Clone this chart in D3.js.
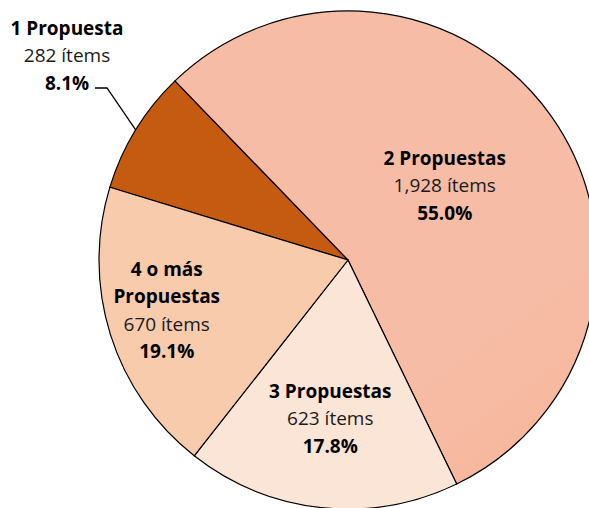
<!DOCTYPE html>
<html>
<head>
<meta charset="utf-8">
<script src="https://cdn.jsdelivr.net/npm/d3@7"></script>
<style>
  body { margin: 0; background: #fff; }
  text { font-family: 'Open Sans', sans-serif; font-size: 19px; fill: #1a1a1a; }
  .b { font-weight: bold; fill: #000; }
</style>
</head>
<body>
<svg width="589" height="508"></svg>
<script>
// Data
let categories = ['1 Propuesta', '2 Propuestas', '3 Propuestas', '4 o más Propuestas'];
let items = [282, 1928, 623, 670];
let nameLines = [['1 Propuesta'], ['2 Propuestas'], ['3 Propuestas'], ['4 o más', 'Propuestas']];
let colors = ['#c55a11', 'url(#grad2)', '#fbe5d6', '#f8cbad'];

let svg = d3.select('svg');
let cx = 348, cy = 260, radius = 249;
let total = d3.sum(items);

// Gradient for the big slice
let grad = svg.append('defs').append('linearGradient')
    .attr('id', 'grad2')
    .attr('gradientUnits', 'userSpaceOnUse')
    .attr('x1', 220).attr('y1', 20).attr('x2', 520).attr('y2', 440);
grad.append('stop').attr('offset', '0%').attr('stop-color', '#f7bca5');
grad.append('stop').attr('offset', '100%').attr('stop-color', '#f4a684');

let pie = d3.pie()
    .sort(null)
    .startAngle(-73 * Math.PI / 180)
    .endAngle((360 - 73) * Math.PI / 180);

let arcs = pie(items);
let arc = d3.arc().innerRadius(0).outerRadius(radius);

let g = svg.append('g').attr('transform', 'translate(' + cx + ',' + cy + ')');

g.selectAll('path')
    .data(arcs)
    .enter().append('path')
    .attr('d', arc)
    .attr('fill', (d, i) => colors[i])
    .attr('stroke', '#000')
    .attr('stroke-width', 1.2)
    .attr('stroke-linejoin', 'round');

// Label radii (inside labels); first one is placed outside with a leader line
let labelRadius = [null, 118, 166, 190];

let fmt = d3.format(',');
let lineH = 27.5;

arcs.forEach(function(d, i) {
    let lines = nameLines[i].map(t => ({t: t, b: true}))
        .concat([{t: fmt(items[i]) + ' ítems', b: false},
                 {t: (items[i] / total * 100).toFixed(1) + '%', b: true}]);
    let x, y;
    if (labelRadius[i] == null) {
        x = 67 - cx; y = 62 - cy;
    } else {
        let a = (d.startAngle + d.endAngle) / 2;
        x = Math.sin(a) * labelRadius[i];
        y = -Math.cos(a) * labelRadius[i];
    }
    let top = y - (lines.length - 1) * lineH / 2;
    lines.forEach(function(l, j) {
        g.append('text')
            .attr('class', l.b ? 'b' : null)
            .attr('text-anchor', 'middle')
            .attr('x', x)
            .attr('y', top + j * lineH)
            .text(l.t);
    });
});

// Leader line for the small slice
let a0 = (arcs[0].startAngle + arcs[0].endAngle) / 2;
let edge = [Math.sin(a0) * radius, -Math.cos(a0) * radius];
g.append('polyline')
    .attr('points', [[95 - cx, 88 - cy], [107 - cx, 88 - cy], edge].map(p => p.join(',')).join(' '))
    .attr('fill', 'none')
    .attr('stroke', '#000')
    .attr('stroke-width', 1.3);
</script>
</body>
</html>
